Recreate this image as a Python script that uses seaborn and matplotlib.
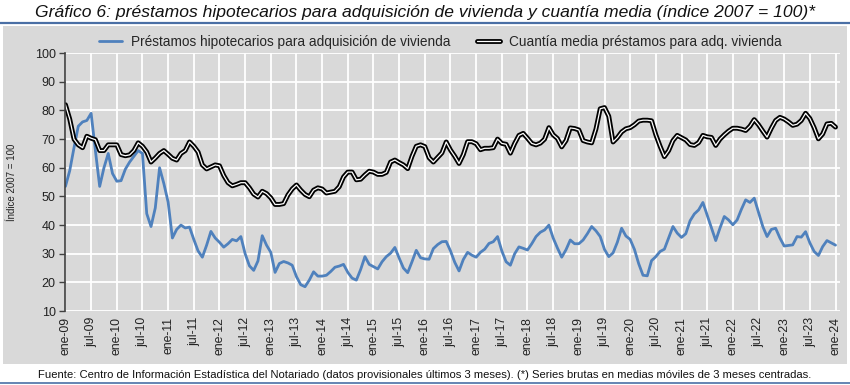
import matplotlib
matplotlib.use("Agg")
import matplotlib.pyplot as plt
import matplotlib.patheffects as pe
from matplotlib.patches import Rectangle
from matplotlib.lines import Line2D
import pandas as pd
import seaborn as sns

# =====================================================
# Data (monthly index 2007 = 100, ene-09 .. ene-24)
# =====================================================

prestamos = [
    53.5, 59, 67, 74.5, 76, 76.5, 79, 66, 53.5, 60, 65, 58,            # 2009
    55.3, 55.5, 59.5, 62, 64, 66, 65, 44, 39.5, 46, 60, 54.5,          # 2010
    48, 35.5, 38.5, 40, 39, 39.3, 35, 31, 28.8, 33, 37.8, 35.5,        # 2011
    34, 32.3, 33.5, 35, 34.5, 36, 30, 25.8, 24.2, 27.5, 36.3, 33,      # 2012
    30.5, 23.5, 26.6, 27.3, 26.8, 26, 22, 19.2, 18.5, 20.8, 23.7, 22.2,  # 2013
    22.2, 22.5, 23.8, 25.3, 25.7, 26.3, 23.5, 21.5, 20.8, 24.5, 29, 26.3,  # 2014
    25.5, 24.7, 27.2, 29, 30.2, 32.2, 28.5, 25, 23.4, 27.2, 31.2, 28.6,  # 2015
    28.2, 28.1, 31.8, 33.2, 34.2, 34.3, 31, 27, 24, 28, 30.5, 29.5,    # 2016
    28.8, 30.5, 31.6, 33.6, 34.2, 36, 31, 27.2, 26, 30, 32.4, 31.9,    # 2017
    31.3, 33.5, 36, 37.5, 38.3, 40, 35.5, 32, 28.8, 31.4, 34.8, 33.5,  # 2018
    33.5, 34.8, 37, 39.5, 38, 36, 31.5, 29, 30.3, 34, 38.9, 36.2,      # 2019
    35, 31.5, 26.5, 22.5, 22.3, 27.6, 29, 30.8, 31.6, 35.5, 39.5, 37.2,  # 2020
    35.7, 37, 41.5, 43.9, 45.3, 47.9, 43.5, 39, 34.6, 39, 43, 41.8,    # 2021
    40.1, 41.8, 45.5, 48.8, 47.9, 49.4, 44.5, 39.5, 36, 38.5, 38.9, 35.5,  # 2022
    32.7, 32.9, 33.1, 36, 35.8, 37.7, 33.8, 30.8, 29.4, 32.5, 34.6, 33.8,  # 2023
    33,                                                                # 2024
]

cuantia = [
    82, 77, 70, 68, 67, 71, 70.3, 69.8, 66, 66, 68, 68,
    68, 64.6, 64.2, 64.5, 66, 68.7, 67.5, 65.5, 62, 63.4, 65, 66,
    64.7, 63.3, 62.7, 65, 66, 69, 67.5, 65.5, 61, 59.6, 60.3, 61,
    60.7, 57.3, 54.8, 53.7, 54.2, 54.8, 54.8, 53, 50.8, 49.8, 51.8, 51,
    49.5, 47.2, 47.2, 47.5, 50.5, 52.6, 54, 52.2, 50.7, 49.9, 52.2, 53,
    52.6, 51.2, 51.5, 51.8, 53.4, 56.8, 58.5, 58.5, 55.8, 56, 57.5, 58.8,
    58.5, 57.7, 57.7, 58.4, 62, 62.7, 61.8, 61, 59.7, 64, 67.5, 68,
    67.4, 63.5, 62, 63.6, 65.2, 69, 66.2, 64, 61.5, 64.6, 69.1, 69.1,
    68.4, 66.3, 66.8, 66.8, 67, 70, 68.5, 68.2, 65.1, 68.5, 71.3, 72,
    70.3, 68.5, 68, 68.6, 70, 74, 71.5, 70.2, 67.3, 69.5, 73.9, 73.7,
    73.2, 69.5, 69, 68.7, 73.5, 80.6, 81, 78, 69, 70.5, 72.5, 73.6,
    74, 75, 76.3, 76.6, 76.6, 76.4, 71.5, 67.5, 63.9, 66, 69.5, 71.3,
    70.5, 69.7, 68.1, 67.8, 68.8, 71.3, 70.8, 70.6, 67.8, 70, 71.5, 72.8,
    73.8, 73.8, 73.5, 73, 74.5, 76.8, 75, 72.8, 70.7, 73.8, 76.5, 77.6,
    77, 76, 74.8, 75.2, 76.5, 79, 77.2, 74, 70.1, 71.8, 75.3, 75.5,
    74.2,
]

tick_labels = [
    "ene-09", "jul-09", "ene-10", "jul-10", "ene-11", "jul-11", "ene-12",
    "jul-12", "ene-13", "jul-13", "ene-14", "jul-14", "ene-15", "jul-15",
    "ene-16", "jul-16", "ene-17", "jul-17", "ene-18", "jul-18", "ene-19",
    "jul-19", "ene-20", "jul-20", "ene-21", "jul-21", "ene-22", "jul-22",
    "ene-23", "jul-23", "ene-24",
]

label_prestamos = "Préstamos hipotecarios para adquisición de vivienda"
label_cuantia = "Cuantía media préstamos para adq. vivienda"

df = pd.DataFrame({
    "mes": range(len(prestamos)),
    "prestamos": prestamos,
    "cuantia": cuantia,
})

# =====================================================
# Style
# =====================================================

sns.set_theme(style="white")
plt.rcParams["font.family"] = ["Liberation Sans", "DejaVu Sans"]

GREY = "#D9D9D9"
BLUE = "#4F81BD"
RULE = "#4A6FA5"

# =====================================================
# Figure
# =====================================================

fig = plt.figure(figsize=(8.5, 3.85), dpi=100)
fig.patch.set_facecolor("white")
fig.add_artist(Rectangle((0.003, 0.055), 0.994, 0.877, transform=fig.transFigure,
                         facecolor=GREY, edgecolor="none", zorder=0))
fig.add_artist(Line2D([0.0, 1.0], [0.940, 0.940], transform=fig.transFigure,
                      color=RULE, lw=1.6))
fig.add_artist(Line2D([0.0, 1.0], [0.006, 0.006], transform=fig.transFigure,
                      color=RULE, lw=1.2))

ax = fig.add_axes([0.077, 0.192, 0.911, 0.670])
ax.set_facecolor(GREY)

sns.lineplot(data=df, x="mes", y="prestamos", ax=ax, color=BLUE, lw=2.0,
             label=label_prestamos, legend=False)
sns.lineplot(data=df, x="mes", y="cuantia", ax=ax, color="white", lw=0.9,
             label=label_cuantia, legend=False)
ax.lines[1].set_path_effects([pe.Stroke(linewidth=3.5, foreground="black"), pe.Normal()])

ax.set_xlim(0, 181)
ax.set_ylim(10, 100)
ax.set_yticks(range(10, 101, 10))
ax.set_xticks(range(0, 181, 6))
ax.set_xticklabels(tick_labels, rotation=90, fontsize=8.8, color="#222222")
ax.tick_params(axis="y", labelsize=9, length=4, width=1, color="#404040",
               direction="out", left=True, labelcolor="#222222", pad=3)
ax.tick_params(axis="x", length=0, pad=4)

ax.grid(True, color="white", lw=1.3)
ax.set_axisbelow(True)
for side in ["top", "right", "bottom"]:
    ax.spines[side].set_visible(False)
ax.spines["left"].set_color("#404040")
ax.spines["left"].set_linewidth(1.2)

ax.set_xlabel("")
ax.set_ylabel("Índice 2007 = 100", fontsize=7, color="#222222", labelpad=13)

fig.legend(handles=ax.lines[:2], labels=[label_prestamos, label_cuantia],
           loc="center", bbox_to_anchor=(0.518, 0.891), ncol=2, frameon=False,
           fontsize=9.8, handlelength=1.7, columnspacing=2.0, handletextpad=0.6)

fig.text(0.5, 0.968,
         "Gráfico 6: préstamos hipotecarios para adquisición de vivienda y cuantía media (índice 2007 = 100)*",
         ha="center", va="center", fontsize=12.6, style="italic", color="#111111")
fig.text(0.5, 0.027,
         "Fuente: Centro de Información Estadística del Notariado (datos provisionales últimos 3 meses). "
         "(*) Series brutas en medias móviles de 3 meses centradas.",
         ha="center", va="center", fontsize=8.1, color="#111111")

fig.savefig("out.png", dpi=100)
plt.close(fig)
